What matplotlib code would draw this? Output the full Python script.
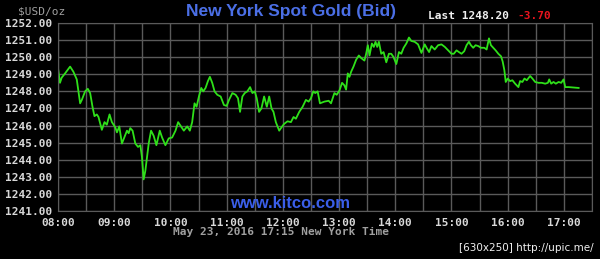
import matplotlib
matplotlib.use("Agg")
import matplotlib.pyplot as plt
from matplotlib.ticker import FixedLocator, FuncFormatter

# minutes after 08:00 (New York time) and bid price
minutes = [
    0, 2.1, 3.9, 7.5, 12.9, 16.4, 20.0, 23.6, 25.4, 28.9, 31.8, 34.3, 36.8,
    38.9, 41.4, 43.2, 46.8, 49.6, 52.1, 55.0, 57.5, 61.1, 62.9, 65.4, 68.2,
    71.1, 73.6, 75.4, 77.1, 79.6, 82.5, 85.4, 87.9, 89.6, 91.4, 93.2, 95.0,
    96.8, 99.3, 102.1, 105.0, 108.6, 111.1, 114.6, 118.2, 121.8, 125.4, 128.2,
    134.3, 137.9, 140.7, 143.2, 145.7, 147.9, 150.4, 152.9, 155.0, 157.5,
    160.0, 162.1, 164.6, 167.1, 170.0, 173.6, 177.1, 180.0, 182.5, 186.1,
    189.6, 192.1, 194.3, 196.8, 199.3, 202.1, 205.0, 207.5, 210.0, 212.1,
    214.6, 217.1, 220.0, 222.9, 225.4, 227.9, 230.0, 232.5, 236.1, 238.6,
    241.4, 245.0, 248.6, 251.4, 253.9, 257.5, 261.1, 264.6, 267.5, 270.0,
    272.5, 274.6, 277.1, 279.6, 284.3, 288.9, 291.4, 295.0, 297.5, 300.4,
    303.2, 305.7, 307.5, 309.3, 311.1, 312.9, 315.4, 318.2, 321.1, 323.6,
    327.1, 328.9, 330.7, 332.5, 335.0, 337.1, 338.9, 340.7, 342.5, 345.0,
    347.5, 350.4, 353.2, 355.7, 358.2, 361.1, 363.9, 366.4, 368.9, 371.8,
    374.6, 377.1, 380.7, 384.3, 387.9, 391.4, 393.9, 396.1, 398.6, 402.1,
    405.7, 409.3, 412.9, 416.4, 420.0, 422.5, 425.4, 427.9, 430.7, 433.6,
    436.1, 438.6, 440.7, 443.2, 445.7, 448.6, 451.4, 455.0, 457.5, 460.0,
    462.1, 464.6, 467.1, 470.0, 472.9, 474.6, 476.4, 477.9, 480.0, 482.5,
    485.0, 487.9, 491.4, 493.2, 495.7, 497.9, 500.4, 503.9, 506.4, 509.3,
    512.9, 516.4, 520.0, 522.9, 524.3, 526.4, 528.9, 531.4, 534.3, 537.1,
    539.6, 541.4, 545.0, 555.7,
]
prices = [
    1249.35, 1248.5, 1248.8, 1249.05, 1249.45, 1249.15, 1248.7, 1247.3,
    1247.5, 1248.0, 1248.15, 1247.9, 1247.1, 1246.55, 1246.65, 1246.5,
    1245.75, 1246.2, 1246.05, 1246.65, 1246.2, 1245.9, 1245.6, 1245.95,
    1244.95, 1245.35, 1245.7, 1245.55, 1245.85, 1245.7, 1244.95, 1244.75,
    1244.85, 1244.15, 1242.85, 1243.35, 1244.15, 1244.95, 1245.7, 1245.4,
    1244.85, 1245.7, 1245.3, 1244.85, 1245.25, 1245.3, 1245.7, 1246.2,
    1245.7, 1245.95, 1245.7, 1246.2, 1247.3, 1247.1, 1247.7, 1248.2,
    1248.0, 1248.2, 1248.6, 1248.85, 1248.5, 1248.0, 1247.8, 1247.7,
    1247.2, 1247.15, 1247.5, 1247.9, 1247.8, 1247.6, 1246.8, 1247.7,
    1247.9, 1248.0, 1248.25, 1247.9, 1248.0, 1247.6, 1246.8, 1247.0,
    1247.7, 1247.1, 1247.7, 1247.0, 1246.8, 1246.2, 1245.7, 1245.9,
    1246.1, 1246.25, 1246.2, 1246.5, 1246.4, 1246.8, 1247.1, 1247.5,
    1247.4, 1247.6, 1248.0, 1247.9, 1248.0, 1247.3, 1247.4, 1247.45,
    1247.3, 1247.9, 1247.8, 1248.05, 1248.5, 1248.35, 1248.1, 1249.05,
    1248.85, 1249.15, 1249.45, 1249.85, 1250.1, 1249.95, 1249.8, 1250.2,
    1250.7, 1250.1, 1250.8, 1250.6, 1250.9, 1250.6, 1250.9, 1250.2,
    1250.3, 1249.7, 1250.2, 1250.2, 1250.0, 1249.6, 1250.3, 1250.2,
    1250.55, 1250.8, 1251.15, 1250.95, 1250.9, 1250.75, 1250.25, 1250.75,
    1250.5, 1250.3, 1250.65, 1250.45, 1250.7, 1250.75, 1250.6, 1250.4,
    1250.2, 1250.2, 1250.4, 1250.3, 1250.2, 1250.35, 1250.7, 1250.9,
    1250.7, 1250.55, 1250.7, 1250.65, 1250.55, 1250.55, 1250.45, 1251.1,
    1250.7, 1250.55, 1250.4, 1250.2, 1250.05, 1249.75, 1249.25, 1248.55,
    1248.75, 1248.6, 1248.65, 1248.45, 1248.25, 1248.6, 1248.55, 1248.75,
    1248.65, 1248.9, 1248.75, 1248.55, 1248.5, 1248.5, 1248.45, 1248.5,
    1248.7, 1248.45, 1248.55, 1248.45, 1248.55, 1248.5, 1248.7, 1248.25,
    1248.25, 1248.2,
]
hour_labels = ["08:00", "09:00", "10:00", "11:00", "12:00",
               "13:00", "14:00", "15:00", "16:00", "17:00"]
price_ticks = [1241, 1242, 1243, 1244, 1245, 1246,
               1247, 1248, 1249, 1250, 1251, 1252]

MONO = "DejaVu Sans Mono"
GRID = "#5a5a5a"

fig = plt.figure(figsize=(6.0, 2.59), dpi=100, facecolor="black")
ax = fig.add_axes([0.0967, 0.1853, 0.89, 0.7259], facecolor="black")

ax.plot(minutes, prices, color="#2fe01a", lw=1.3)

ax.set_xlim(0, 570)
ax.set_ylim(1241, 1252)
ax.xaxis.set_major_locator(FixedLocator([60 * i for i in range(len(hour_labels))]))
ax.xaxis.set_major_formatter(FuncFormatter(lambda x, pos: hour_labels[pos]))
ax.xaxis.set_minor_locator(FixedLocator([30 + 60 * i for i in range(10)]))
ax.yaxis.set_major_locator(FixedLocator(price_ticks))
ax.yaxis.set_major_formatter(FuncFormatter(lambda y, pos: f"{y:.2f}"))

ax.grid(True, which="both", color=GRID, lw=1.0)
ax.tick_params(which="both", length=0, colors="#d8d8d8")
ax.tick_params(axis="y", pad=4)
ax.tick_params(axis="x", pad=5)
for lab in ax.get_xticklabels() + ax.get_yticklabels():
    lab.set_fontfamily(MONO)
    lab.set_fontweight("bold")
    lab.set_fontsize(8)
for sp in ax.spines.values():
    sp.set_color(GRID)

fig.text(0.03, 0.955, "$USD/oz", family=MONO, size=8, color="#a0a0a0",
         ha="left", va="center")
fig.text(0.485, 0.955, "New York Spot Gold (Bid)", family="Liberation Sans",
         weight="bold", size=12.5, color="#4b6fe6", ha="center", va="center")
fig.text(0.713, 0.94, "Last 1248.20", family=MONO, weight="bold", size=8,
         color="#f0f0f0", ha="left", va="center")
fig.text(0.862, 0.94, "-3.70", family=MONO, weight="bold", size=8,
         color="#e8141e", ha="left", va="center")
fig.text(0.484, 0.215, "www.kitco.com", family="Liberation Sans",
         weight="bold", size=12, color="#3a5ee8", ha="center", va="center")
fig.text(0.468, 0.104, "May 23, 2016 17:15 New York Time", family=MONO,
         weight="bold", size=8, color="#a0a0a0", ha="center", va="center")
fig.text(0.99, 0.042, "[630x250] http://upic.me/", family="DejaVu Sans",
         size=7.5, color="#f0f0f0", ha="right", va="center")

fig.savefig("out.png", dpi=100, facecolor="black")
